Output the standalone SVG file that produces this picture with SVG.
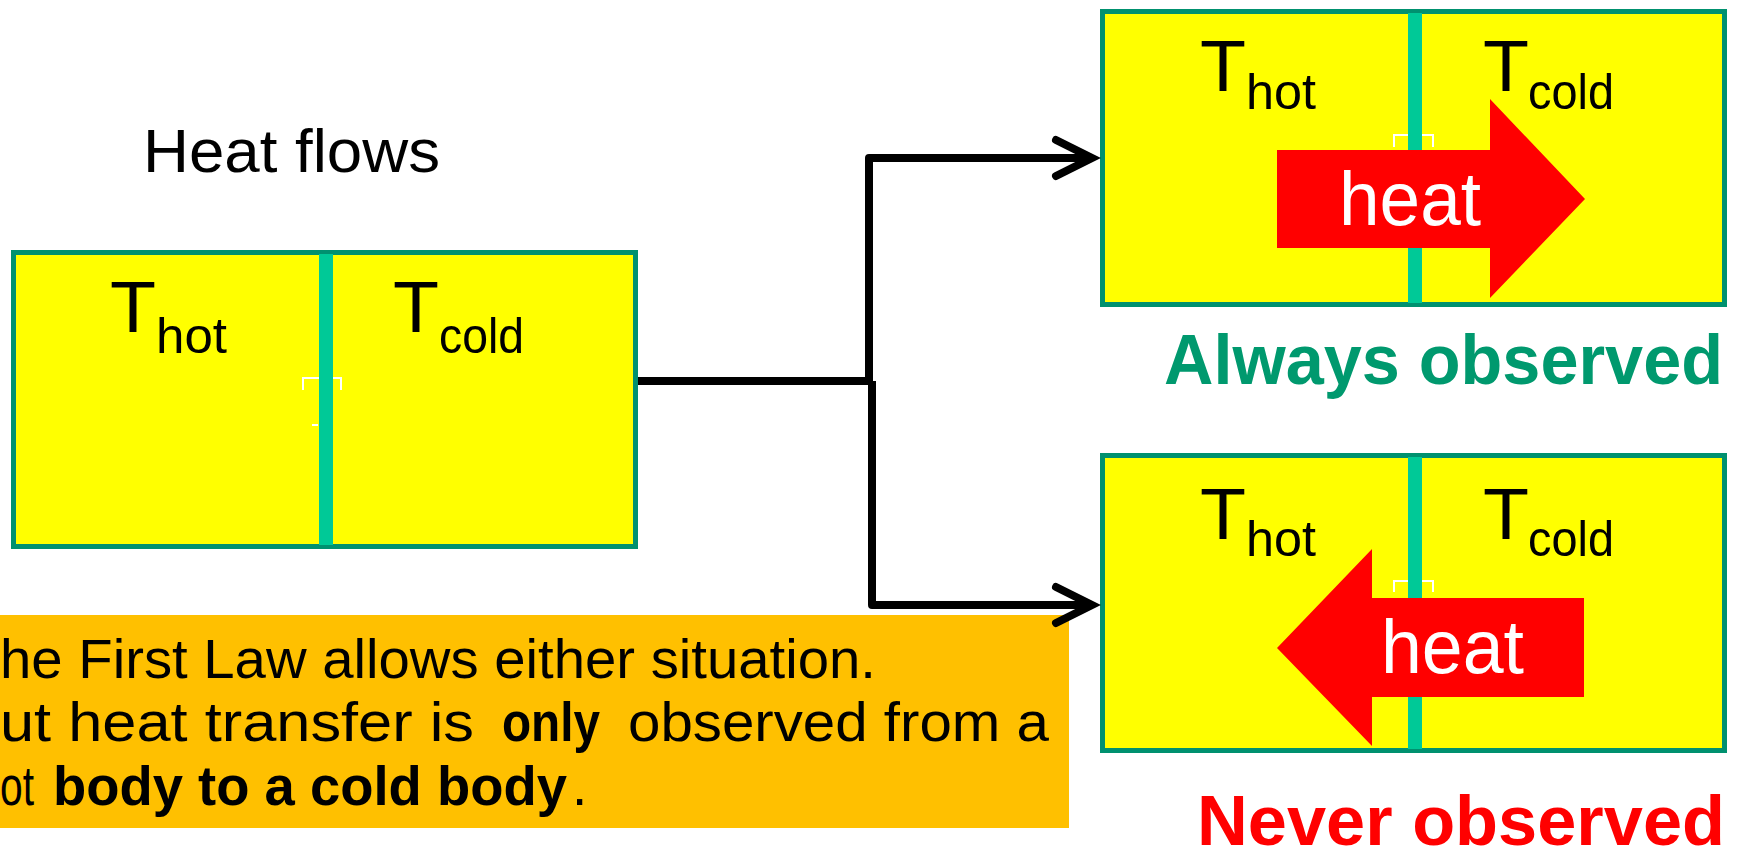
<svg xmlns="http://www.w3.org/2000/svg" width="1742" height="860" viewBox="0 0 1742 860">
  <defs>
    <style>
      text { font-family: "Liberation Sans", Arial, sans-serif; }
      .box { fill: #FFFF00; stroke: #00916F; stroke-width: 5; }
      .div { fill: #00C997; }
      .tbig { font-size: 72px; fill: #000000; }
      .tsub { font-size: 50px; fill: #000000; }
      .heat { font-size: 76px; fill: #FFFFFF; }
      .harrow { fill: #FF0000; }
      .art { fill: none; stroke: #FFFFFF; stroke-width: 2; }
      .conn { fill: none; stroke: #000000; stroke-width: 8; stroke-linejoin: round; }
      .note { font-size: 55px; fill: #000000; }
      .b { font-weight: bold; }
      .big { font-size: 70px; font-weight: bold; }
    </style>
    <marker id="chev" markerUnits="userSpaceOnUse" viewBox="-50 -30 60 60" markerWidth="60" markerHeight="60" refX="0" refY="0" orient="auto">
      <path d="M-36,-18 L0,0 L-36,18" fill="none" stroke="#000000" stroke-width="8" stroke-linecap="round" stroke-linejoin="miter"/>
    </marker>
  </defs>
  <rect width="1742" height="860" fill="#FFFFFF"/>

  <g id="title">
    <text x="143" y="172" font-size="62" textLength="297" lengthAdjust="spacingAndGlyphs">Heat flows</text>
  </g>

  <g id="box-left">
    <rect class="box" x="13.5" y="252.5" width="622" height="294"/>
    <path class="art" d="M303,390 V378 H341 V390 M312,425 H318"/>
    <rect class="div" x="319" y="254" width="14" height="291"/>
    <text class="tbig" x="110" y="332" textLength="46" lengthAdjust="spacingAndGlyphs">T</text>
    <text class="tsub" x="156" y="353" textLength="71" lengthAdjust="spacingAndGlyphs">hot</text>
    <text class="tbig" x="393" y="332" textLength="46" lengthAdjust="spacingAndGlyphs">T</text>
    <text class="tsub" x="439" y="353" textLength="85" lengthAdjust="spacingAndGlyphs">cold</text>
  </g>

  <g id="box-top">
    <rect class="box" x="1102.5" y="11.5" width="622" height="293"/>
    <path class="art" d="M1394,147 V135 H1433 V147"/>
    <rect class="div" x="1408" y="13" width="14" height="290"/>
    <text class="tbig" x="1200" y="91" textLength="46" lengthAdjust="spacingAndGlyphs">T</text>
    <text class="tsub" x="1246" y="109" textLength="70" lengthAdjust="spacingAndGlyphs">hot</text>
    <text class="tbig" x="1483" y="91" textLength="46" lengthAdjust="spacingAndGlyphs">T</text>
    <text class="tsub" x="1528" y="109" textLength="86" lengthAdjust="spacingAndGlyphs">cold</text>
    <polygon class="harrow" points="1277,150 1490,150 1490,99 1585,199 1490,298 1490,248 1277,248"/>
    <text class="heat" x="1339" y="225" textLength="142" lengthAdjust="spacingAndGlyphs">heat</text>
  </g>
  <g id="label-always">
    <text class="big" x="1164" y="384" fill="#00996E" textLength="559" lengthAdjust="spacingAndGlyphs">Always observed</text>
  </g>

  <g id="box-bottom">
    <rect class="box" x="1102.5" y="455.5" width="622" height="295"/>
    <path class="art" d="M1394,592 V581 H1433 V592"/>
    <rect class="div" x="1408" y="457" width="14" height="292"/>
    <text class="tbig" x="1200" y="539" textLength="46" lengthAdjust="spacingAndGlyphs">T</text>
    <text class="tsub" x="1246" y="556" textLength="70" lengthAdjust="spacingAndGlyphs">hot</text>
    <text class="tbig" x="1483" y="539" textLength="46" lengthAdjust="spacingAndGlyphs">T</text>
    <text class="tsub" x="1528" y="556" textLength="86" lengthAdjust="spacingAndGlyphs">cold</text>
    <polygon class="harrow" points="1584,598 1372,598 1372,549 1277,648 1372,746 1372,697 1584,697"/>
    <text class="heat" x="1381" y="673" textLength="143" lengthAdjust="spacingAndGlyphs">heat</text>
  </g>
  <g id="label-never">
    <text class="big" x="1197" y="845" fill="#FF0000" textLength="528" lengthAdjust="spacingAndGlyphs">Never observed</text>
  </g>

  <g id="note">
    <rect x="0" y="615" width="1069" height="213" fill="#FFC000"/>
    <text class="note" x="0" y="678" textLength="876" lengthAdjust="spacingAndGlyphs">he First Law allows either situation.</text>
    <text class="note" x="0" y="741" textLength="474" lengthAdjust="spacingAndGlyphs">ut heat transfer is</text>
    <text class="note b" x="502" y="741" textLength="98" lengthAdjust="spacingAndGlyphs">only</text>
    <text class="note" x="628" y="741" textLength="421" lengthAdjust="spacingAndGlyphs">observed from a</text>
    <text class="note" x="0" y="805" textLength="34" lengthAdjust="spacingAndGlyphs">ot</text>
    <text class="note b" x="53" y="805" textLength="514" lengthAdjust="spacingAndGlyphs">body to a cold body</text>
    <text class="note" x="572" y="805">.</text>
  </g>

  <g id="connectors">
    <path class="conn" d="M638,381 H871"/>
    <path class="conn" d="M869,381 V158 H1092" marker-end="url(#chev)"/>
    <path class="conn" d="M872,381 V605 H1092" marker-end="url(#chev)"/>
  </g>
</svg>
